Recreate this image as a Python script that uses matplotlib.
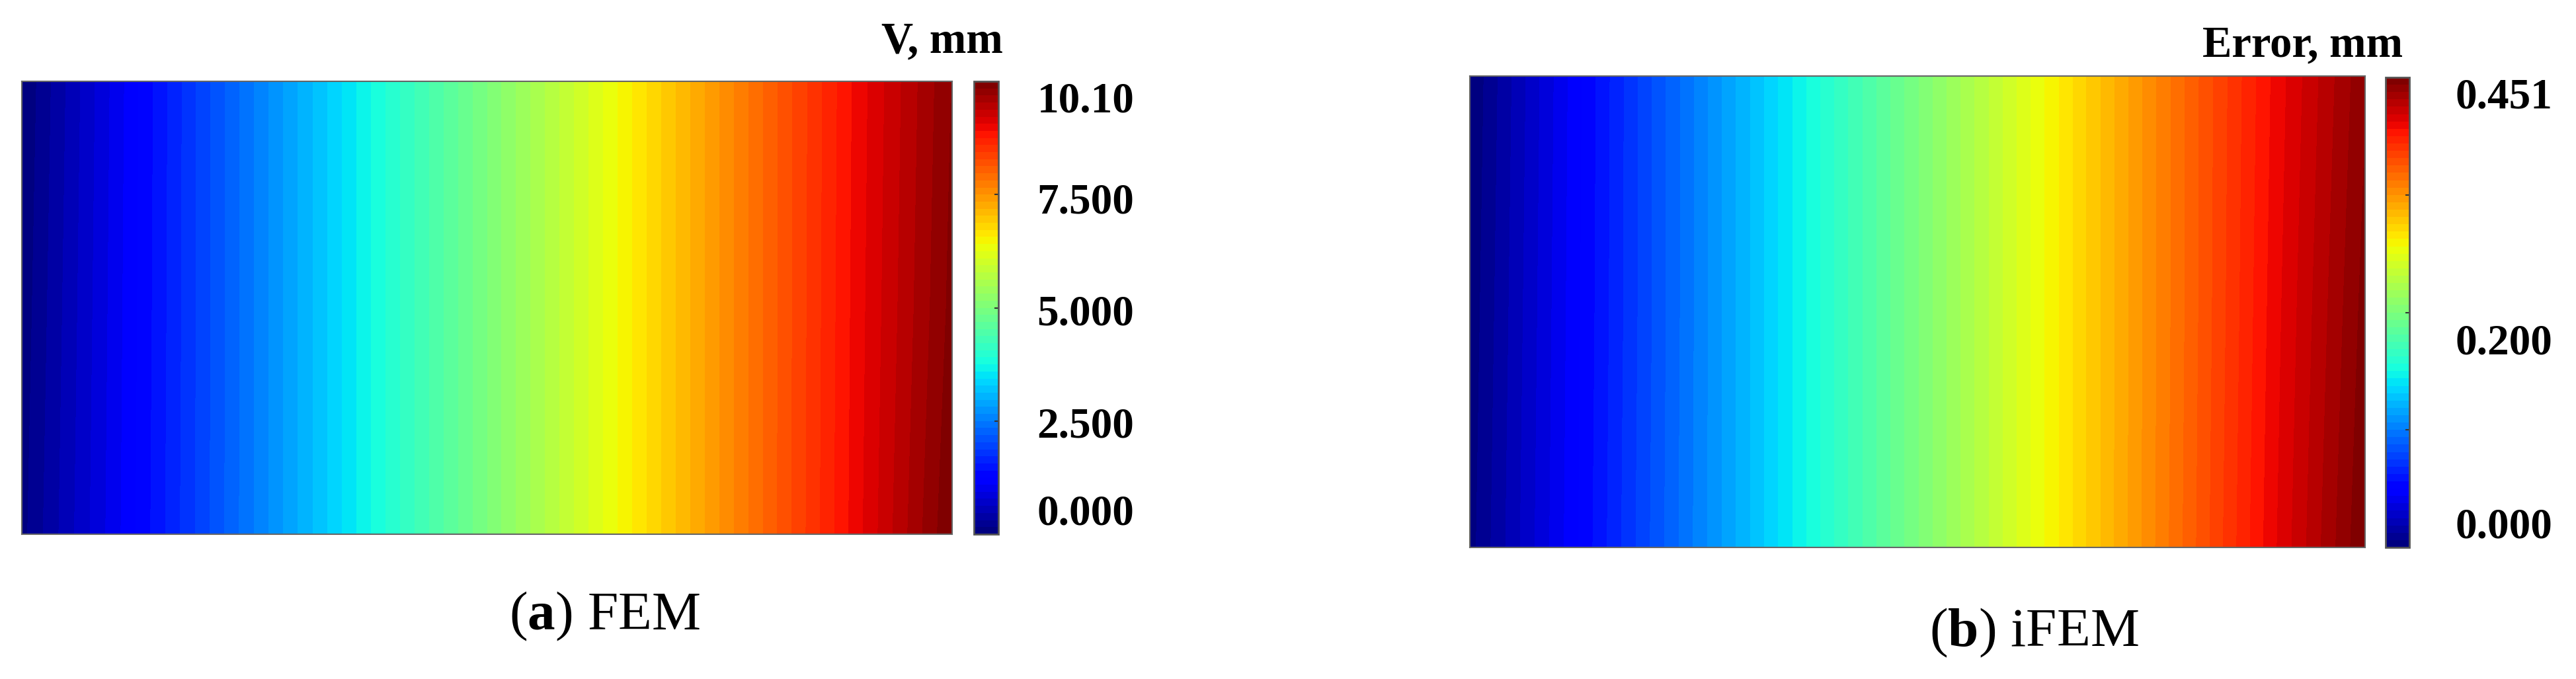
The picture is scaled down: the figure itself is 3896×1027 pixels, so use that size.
import matplotlib
matplotlib.use("Agg")
import matplotlib.pyplot as plt
import numpy as np

plt.rcParams["font.family"] = ["Liberation Serif", "DejaVu Serif"]
plt.rcParams["mathtext.fontset"] = "custom"
plt.rcParams["mathtext.rm"] = "Liberation Serif"
plt.rcParams["mathtext.bf"] = "Liberation Serif:bold"

# node positions along the plate (fraction of length) and rows (bottom, mid, top)
x_nodes = [0.0, 0.1, 0.2, 0.3, 0.4, 0.5, 0.6, 0.7, 0.8, 0.9, 1.0]
y_nodes = [0.0, 0.5, 1.0]

# (a) FEM displacement V, mm
fem_bottom = [0.10, 1.04, 2.03, 3.03, 4.04, 5.05, 6.06, 7.07, 8.08, 9.11, 10.10]
fem_mid = [0.05, 1.02, 2.02, 3.03, 4.04, 5.05, 6.06, 7.07, 8.08, 9.09, 10.00]
fem_top = [0.00, 1.00, 2.02, 3.03, 4.04, 5.05, 6.06, 7.07, 8.08, 9.07, 9.95]
fem_max = 10.10
fem_ticks = [0.0, 2.5, 5.0, 7.5, 10.10]
fem_labels = ["0.000", "2.500", "5.000", "7.500", "10.10"]

# (b) iFEM error, mm
err_bottom = [0.004, 0.047, 0.091, 0.135, 0.180, 0.225, 0.270, 0.315, 0.361, 0.408, 0.451]
err_mid = [0.002, 0.046, 0.090, 0.135, 0.180, 0.225, 0.270, 0.315, 0.360, 0.406, 0.447]
err_top = [0.000, 0.045, 0.090, 0.135, 0.180, 0.225, 0.270, 0.315, 0.360, 0.404, 0.443]
err_max = 0.451
err_ticks = [0.0, 0.200, 0.451]
err_labels = ["0.000", "0.200", "0.451"]

W, H = 3896, 1027
fig = plt.figure(figsize=(W / 100, H / 100), dpi=100)
cmap = plt.get_cmap("jet", 64)
edge = "#666666"


def px_axes(x0, y0, x1, y1):
    return fig.add_axes([x0 / W, 1 - y1 / H, (x1 - x0) / W, (y1 - y0) / H])


def panel(box, cbox, rows, vmax, ticks, labels, title, title_xy, pad):
    ax = px_axes(*box)
    X, Y = np.meshgrid(x_nodes, y_nodes)
    Z = np.array(rows)
    levels = np.linspace(0, vmax, 65)
    cs = ax.contourf(X, Y, Z, levels=levels, cmap=cmap)
    ax.set_xlim(0, 1)
    ax.set_ylim(0, 1)
    ax.set_xticks([])
    ax.set_yticks([])
    for s in ax.spines.values():
        s.set_color(edge)
        s.set_linewidth(1.5)

    cax = px_axes(*cbox)
    cb = fig.colorbar(cs, cax=cax, ticks=ticks)
    cb.outline.set_edgecolor("#555555")
    cb.outline.set_linewidth(2)
    cax.set_ylim(0, vmax)
    cax.set_yticklabels(labels, fontsize=47, fontweight="bold")
    cax.tick_params(axis="y", which="major", length=0, pad=pad)
    cax.set_yticks([vmax * 0.25, vmax * 0.5, vmax * 0.75], minor=True)
    cax.tick_params(axis="y", which="minor", direction="in", length=4, width=1.5,
                    color="#333333")
    tl = cax.get_yticklabels()
    tl[0].set_verticalalignment("bottom")
    tl[-1].set_verticalalignment("top")

    fig.text(title_xy[0] / W, 1 - title_xy[1] / H, title, ha="right", va="baseline",
             fontsize=48, fontweight="bold")


panel((33, 123, 1440, 808), (1473, 123, 1510, 808),
      [fem_bottom, fem_mid, fem_top], fem_max, fem_ticks, fem_labels,
      "V, mm", (1517, 80), 42)
panel((2223, 115, 3577, 828), (3608, 117, 3644, 828),
      [err_bottom, err_mid, err_top], err_max, err_ticks, err_labels,
      "Error, mm", (3634, 85), 50)

fig.text(770 / W, 1 - 952 / H, r"($\mathbf{a}$) FEM", ha="left", va="baseline", fontsize=60)
fig.text(2918 / W, 1 - 977 / H, r"($\mathbf{b}$) iFEM", ha="left", va="baseline", fontsize=60)

fig.savefig("out.png", dpi=100, facecolor="white")
